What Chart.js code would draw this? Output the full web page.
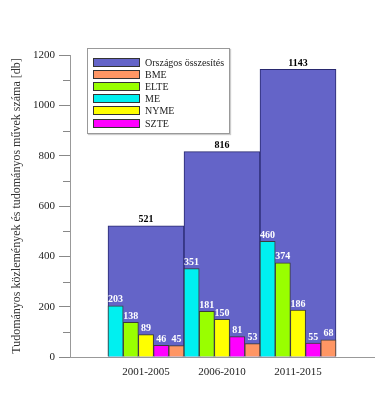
<!DOCTYPE html>
<html>
<head>
<meta charset="utf-8">
<script src="https://cdn.jsdelivr.net/npm/chart.js@4/dist/chart.umd.min.js"></script>
<style>
    body { margin: 0; background: #fff; }
    #wrap { position: relative; width: 376px; height: 407px; }
    #legend {
        position: absolute; left: 87px; top: 48px; width: 141px; height: 84px;
        background: #fff; border: 1px solid #999; box-shadow: 1px 1px 1px #ccc;
        font: 10px "Liberation Serif", serif; color: #222;
    }
    #legend ul { list-style: none; margin: 0; padding: 7px 0 0 0; }
    #legend li { height: 12.2px; display: flex; align-items: center; }
    #legend span.box {
        display: inline-block; width: 47px; height: 9px; margin: 0 5px 0 5px;
        border: 1px solid #333; box-sizing: border-box;
    }
</style>
</head>
<body>
<div id="wrap">
    <canvas id="BarChart" width="376" height="407"></canvas>
    <div id="legend"></div>
</div>
<script>
const periods = ['2001-2005', '2006-2010', '2011-2015'];
const total = [521, 816, 1143];
const me = [203, 351, 460];
const elte = [138, 181, 374];
const nyme = [89, 150, 186];
const szte = [46, 81, 55];
const bme = [45, 53, 68];

// empty slots at both ends leave room left and right of the groups
const pad = arr => [null, ...arr, null];

const bar_data = {
    labels: ['', ...periods, ''],
    datasets: [
        { label: 'ME', data: pad(me), backgroundColor: 'rgb(0, 240, 240)' },
        { label: 'ELTE', data: pad(elte), backgroundColor: 'rgb(153, 255, 0)' },
        { label: 'NYME', data: pad(nyme), backgroundColor: 'rgb(255, 255, 0)' },
        { label: 'SZTE', data: pad(szte), backgroundColor: 'rgb(255, 0, 255)' },
        { label: 'BME', data: pad(bme), backgroundColor: 'rgb(255, 150, 100)' },
        { label: 'Országos összesítés', data: pad(total), backgroundColor: 'rgb(100, 100, 200)',
          borderColor: 'rgb(40, 40, 110)', grouped: false, order: 1, labelColor: '#000' }
    ]
};

const legendOrder = ['Országos összesítés', 'BME', 'ELTE', 'ME', 'NYME', 'SZTE'];

const valueLabels = {
    id: 'valueLabels',
    afterDatasetsDraw(chart) {
        const ctx = chart.ctx;
        ctx.save();
        ctx.font = 'bold 10px "Liberation Serif", serif';
        ctx.textAlign = 'center';
        ctx.textBaseline = 'bottom';
        chart.data.datasets.forEach((ds, i) => {
            const meta = chart.getDatasetMeta(i);
            ctx.fillStyle = ds.labelColor || '#fff';
            meta.data.forEach((el, j) => {
                if (ds.data[j] == null) return;
                ctx.fillText(ds.data[j], el.x, el.y - 1);
            });
        });
        ctx.restore();
    }
};

const minorTicks = {
    id: 'minorTicks',
    afterDraw(chart) {
        const y = chart.scales.y;
        const ctx = chart.ctx;
        ctx.save();
        ctx.strokeStyle = '#888';
        ctx.lineWidth = 1;
        for (let v = 100; v < 1200; v += 200) {
            const py = Math.round(y.getPixelForValue(v)) + 0.5;
            ctx.beginPath();
            ctx.moveTo(y.right - 7, py);
            ctx.lineTo(y.right, py);
            ctx.stroke();
        }
        ctx.restore();
    }
};

const htmlLegend = {
    id: 'htmlLegend',
    afterUpdate(chart) {
        const ul = document.createElement('ul');
        legendOrder.forEach(name => {
            const ds = chart.data.datasets.find(d => d.label === name);
            const li = document.createElement('li');
            const box = document.createElement('span');
            box.className = 'box';
            box.style.background = ds.backgroundColor;
            li.appendChild(box);
            li.appendChild(document.createTextNode(name));
            ul.appendChild(li);
        });
        const el = document.getElementById('legend');
        el.innerHTML = '';
        el.appendChild(ul);
    }
};

const configBar = {
    type: 'bar',
    data: bar_data,
    options: {
        responsive: false,
        animation: false,
        layout: { padding: { top: 55, left: 10, right: 2, bottom: 0 } },
        datasets: {
            bar: {
                categoryPercentage: 1,
                barPercentage: 1,
                borderWidth: 1,
                borderColor: 'rgb(60, 60, 60)'
            }
        },
        plugins: {
            legend: { display: false },
            tooltip: { enabled: false }
        },
        scales: {
            x: {
                offset: false,
                // invisible tick marks push the labels down without adding side padding
                grid: {
                    drawOnChartArea: false,
                    drawTicks: true,
                    tickLength: 9,
                    color: 'rgba(0,0,0,0)',
                    tickColor: 'rgba(0,0,0,0)'
                },
                border: { color: '#999' },
                ticks: {
                    autoSkip: false,
                    maxRotation: 0,
                    padding: 0,
                    color: '#222',
                    font: { family: '"Liberation Serif", serif', size: 11 }
                },
                afterFit(scale) { scale.height = 50; }
            },
            y: {
                min: 0,
                max: 1200,
                border: { color: '#999' },
                grid: {
                    drawOnChartArea: false,
                    tickLength: 11,
                    tickColor: c => (c.tick && c.tick.value % 200 === 0) ? '#888' : 'rgba(0,0,0,0)'
                },
                ticks: {
                    stepSize: 100,
                    padding: 4,
                    color: '#222',
                    font: { family: '"Liberation Serif", serif', size: 11 },
                    callback: v => v % 200 === 0 ? v : ''
                },
                title: {
                    display: true,
                    text: 'Tudományos közlemények és tudományos művek száma [db]',
                    color: '#333',
                    padding: 0,
                    font: { family: '"Liberation Serif", serif', size: 12 }
                },
                afterFit(scale) { scale.width = 60; }
            }
        }
    },
    plugins: [valueLabels, minorTicks, htmlLegend]
};

const BarChart = new Chart(
    document.getElementById('BarChart'),
    configBar
);
</script>
</body>
</html>
